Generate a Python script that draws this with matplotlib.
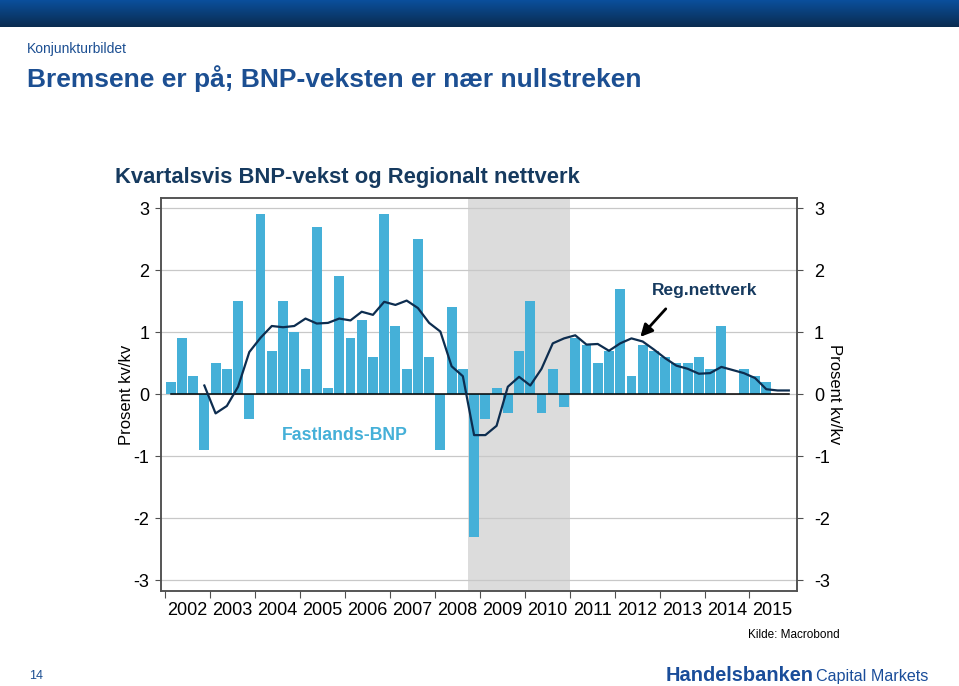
import numpy as np
import pandas as pd
import matplotlib
matplotlib.use('Agg')
import matplotlib.pyplot as plt
from matplotlib.colors import LinearSegmentedColormap

plt.rcParams['font.family'] = ['Liberation Sans', 'DejaVu Sans']

# Fastlands-BNP, kvartalsvis vekst (prosent kv/kv), 2002K1 - 2015K2
bnp_start = '2002Q1'
bnp = [0.2, 0.9, 0.3, -0.9, 0.5, 0.4, 1.5, -0.4, 2.9, 0.7, 1.5, 1.0,
       0.4, 2.7, 0.1, 1.9, 0.9, 1.2, 0.6, 2.9, 1.1, 0.4, 2.5, 0.6,
       -0.9, 1.4, 0.4, -2.3, -0.4, 0.1, -0.3, 0.7, 1.5, -0.3, 0.4, -0.2,
       0.9, 0.8, 0.5, 0.7, 1.7, 0.3, 0.8, 0.7, 0.6, 0.5, 0.5, 0.6,
       0.4, 1.1, 0.0, 0.4, 0.3, 0.2]

# Regionalt nettverk, 2002K4 - 2015K4
reg_start = '2002Q4'
reg = [0.14, -0.31, -0.19, 0.12, 0.68, 0.91, 1.10, 1.08, 1.10,
       1.22, 1.14, 1.15, 1.22, 1.19, 1.33, 1.28, 1.49, 1.44, 1.51, 1.39,
       1.15, 1.01, 0.45, 0.29, -0.66, -0.66, -0.51, 0.12, 0.28, 0.14, 0.41,
       0.82, 0.90, 0.95, 0.80, 0.81, 0.70, 0.82, 0.90, 0.85, 0.72, 0.58,
       0.46, 0.41, 0.33, 0.34, 0.44, 0.39, 0.34, 0.26, 0.08, 0.06, 0.06]

years = list(range(2002, 2016))
yticks = [-3, -2, -1, 0, 1, 2, 3]
# grå periode: 2008K4 til utgangen av 2010
shade_start, shade_end = 2008.75, 2011.0


def quarter_mid(start, n):
    p = pd.period_range(start, periods=n, freq='Q')
    return np.asarray(p.year + (p.quarter - 1) * 0.25 + 0.125, dtype=float)


bar_col = '#45b0d8'
navy = '#163a5f'
blue = '#1c4f92'

x_bnp = quarter_mid(bnp_start, len(bnp))
x_reg = quarter_mid(reg_start, len(reg))

fig = plt.figure(figsize=(9.59, 6.86), dpi=100)

# blått bånd øverst
band = fig.add_axes([0, 1 - 27 / 686, 1, 27 / 686])
cmap = LinearSegmentedColormap.from_list('band', ['#0b4f9c', '#0a2c50'])
band.imshow(np.linspace(0, 1, 50).reshape(-1, 1), aspect='auto', cmap=cmap)
band.axis('off')

ax = fig.add_axes([160.7 / 959, 1 - 590.7 / 686, (797.3 - 160.7) / 959, (590.7 - 198.3) / 686])

ax.axvspan(shade_start, shade_end, color='#dcdcdc', zorder=0.2, lw=0)
ax.bar(x_bnp, bnp, width=0.22, color=bar_col, zorder=2)
ax.plot([x_bnp[0], x_reg[-1]], [0, 0], color='black', lw=1.1, zorder=3)
ax.plot(x_reg, reg, color='#0d2d4f', lw=1.6, zorder=4)

ax.set_xlim(2001.904, 2016.064)
ax.set_ylim(-3.17, 3.16)
ax.set_yticks(yticks)
ax.set_yticklabels([str(v) for v in yticks])
ax.grid(axis='y', color='#c8c8c8', lw=0.9)
ax.set_axisbelow(True)

ax.set_xticks(years)
ax.set_xticklabels([])
ax.set_xticks([y + 0.5 for y in years], minor=True)
ax.set_xticklabels([str(y) for y in years], minor=True, fontsize=13)
ax.tick_params(axis='x', which='major', direction='out', length=5, color='#505050')
ax.tick_params(axis='x', which='minor', length=0, pad=8)
ax.tick_params(axis='y', direction='out', length=4, pad=4, labelsize=13, color='#505050')
ax.set_ylabel('Prosent kv/kv', fontsize=12, labelpad=0)

for sp in ax.spines.values():
    sp.set_color('#505050')
    sp.set_linewidth(1.1)

ax2 = ax.twinx()
ax2.set_ylim(ax.get_ylim())
ax2.set_yticks(yticks)
ax2.set_yticklabels([str(v) for v in yticks])
ax2.tick_params(axis='y', direction='out', length=4, pad=8, labelsize=13, color='#505050')
ax2.set_ylabel('Prosent kv/kv', fontsize=12, rotation=270, va='bottom', labelpad=-2)
for sp in ax2.spines.values():
    sp.set_color('#505050')
    sp.set_linewidth(1.1)

ax.text(2006.01, -0.67, 'Fastlands-BNP', color=bar_col, fontsize=12.7,
        fontweight='bold', ha='center', va='center')
ax.text(2014.0, 1.67, 'Reg.nettverk', color=navy, fontsize=12.5,
        fontweight='bold', ha='center', va='center')
ax.annotate('', xy=(2012.53, 0.89), xytext=(2013.18, 1.41),
            arrowprops=dict(arrowstyle='-|>', color='black', lw=2, mutation_scale=18))

# tekster på sliden
fig.text(27 / 959, 1 - 53 / 686, 'Konjunkturbildet', color=blue, fontsize=10, va='baseline')
fig.text(27 / 959, 1 - 87 / 686, 'Bremsene er på; BNP-veksten er nær nullstreken',
         color=blue, fontsize=19, fontweight='bold', va='baseline')
fig.text(115 / 959, 1 - 183 / 686, 'Kvartalsvis BNP-vekst og Regionalt nettverk',
         color=navy, fontsize=15.8, fontweight='bold', va='baseline')
fig.text(840 / 959, 1 - 638 / 686, 'Kilde: Macrobond', fontsize=8.5, ha='right', va='baseline')
fig.text(29 / 959, 1 - 679 / 686, '14', color=blue, fontsize=9, va='baseline')
fig.text(666 / 959, 1 - 681 / 686, 'Handelsbanken', color='#1a4d9a', fontsize=14.4,
         fontweight='bold', va='baseline')
fig.text(816 / 959, 1 - 681 / 686, 'Capital Markets', color='#1a4d9a', fontsize=11.6,
         va='baseline')

plt.savefig('out.png', dpi=100)
